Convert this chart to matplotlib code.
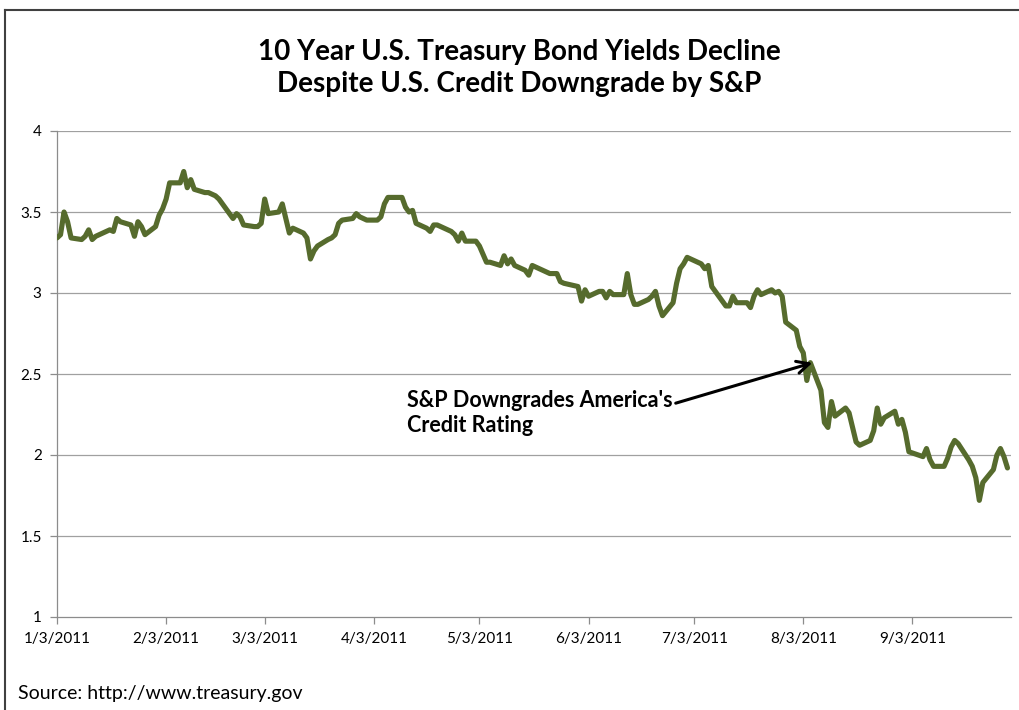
import pandas as pd
import matplotlib
matplotlib.use("Agg")
import matplotlib.pyplot as plt
from matplotlib.lines import Line2D

plt.rcParams['font.family'] = ['Lato', 'DejaVu Sans']

# 10 year yields, one list per month (trading days only)
jan = [3.34, 3.36, 3.50, 3.44, 3.34, 3.33, 3.35, 3.39, 3.33, 3.35, 3.39, 3.38, 3.46, 3.44, 3.42, 3.35, 3.44, 3.41, 3.36, 3.41]
feb = [3.48, 3.52, 3.58, 3.68, 3.68, 3.75, 3.65, 3.70, 3.64, 3.62, 3.62, 3.61, 3.60, 3.58, 3.46, 3.49, 3.47, 3.42, 3.41]
mar = [3.41, 3.43, 3.58, 3.49, 3.50, 3.55, 3.46, 3.37, 3.40, 3.37, 3.34, 3.21, 3.26, 3.29, 3.33, 3.34, 3.36, 3.43, 3.45, 3.46, 3.49, 3.47, 3.46]
apr = [3.45, 3.45, 3.47, 3.55, 3.59, 3.59, 3.59, 3.53, 3.50, 3.51, 3.43, 3.40, 3.38, 3.42, 3.42, 3.38, 3.36, 3.32, 3.37, 3.32]
may = [3.32, 3.29, 3.24, 3.19, 3.19, 3.17, 3.23, 3.18, 3.21, 3.17, 3.14, 3.11, 3.17, 3.16, 3.15, 3.12, 3.12, 3.12, 3.07, 3.06, 3.04]
jun = [2.95, 3.02, 2.98, 3.01, 3.01, 2.97, 3.01, 2.99, 2.99, 3.12, 2.99, 2.93, 2.93, 2.96, 2.98, 3.01, 2.92, 2.86, 2.94, 3.06, 3.15, 3.18]
jul = [3.22, 3.18, 3.15, 3.17, 3.04, 2.95, 2.92, 2.92, 2.98, 2.94, 2.94, 2.91, 2.98, 3.02, 2.99, 3.02, 3.00, 3.01, 2.98, 2.82]
aug = [2.77, 2.67, 2.63, 2.46, 2.57, 2.40, 2.20, 2.17, 2.33, 2.24, 2.29, 2.26, 2.17, 2.08, 2.06, 2.09, 2.15, 2.29, 2.19, 2.23, 2.27, 2.19, 2.22]
sep = [2.14, 2.02, 1.99, 2.04, 1.97, 1.93, 1.93, 1.98, 2.05, 2.09, 2.07, 1.97, 1.93, 1.86, 1.72, 1.83, 1.91, 2.00, 2.04, 1.99, 1.92]

market_holidays = ['2011-01-17', '2011-02-21', '2011-04-22', '2011-05-30', '2011-07-04', '2011-09-05']
tick_dates = ['2011-01-03', '2011-02-03', '2011-03-03', '2011-04-03', '2011-05-03',
              '2011-06-03', '2011-07-03', '2011-08-03', '2011-09-03']
y_ticks = [1, 1.5, 2, 2.5, 3, 3.5, 4]
y_labels = ['1', '1.5', '2', '2.5', '3', '3.5', '4']

yields = jan + feb + mar + apr + may + jun + jul + aug + sep
dates = pd.bdate_range('2011-01-03', '2011-09-30', freq='C', holidays=market_holidays)
assert len(dates) == len(yields)

fig = plt.figure(figsize=(10.19, 7.10), dpi=100)
ax = fig.add_axes([57 / 1019, 1 - 617 / 710, (1011 - 57) / 1019, (617 - 131) / 710])

ax.plot(dates, yields, color='#566B2D', lw=3.7, solid_joinstyle='round', solid_capstyle='round', zorder=3)

ax.set_ylim(1, 4)
ax.set_xlim(pd.Timestamp('2011-01-03'), pd.Timestamp('2011-10-01'))
ax.set_yticks(y_ticks)
ax.set_yticklabels(y_labels)
ticks = pd.to_datetime(tick_dates)
ax.set_xticks(ticks)
ax.set_xticklabels([f"{d.month}/{d.day}/{d.year}" for d in ticks])

for v in y_ticks[1:]:
    ax.axhline(v, color='#A0A0A0', lw=0.9, zorder=1)

for s in ['top', 'right']:
    ax.spines[s].set_visible(False)
for s in ['left', 'bottom']:
    ax.spines[s].set_color('#8C8C8C')
    ax.spines[s].set_linewidth(0.9)
ax.tick_params(axis='both', colors='#8C8C8C', length=5, width=0.9, labelcolor='black', labelsize=11)
ax.tick_params(axis='y', pad=6)
ax.tick_params(axis='x', pad=6)

# annotation
ax.text(pd.Timestamp('2011-04-12 10:00'), 2.26, "S&P Downgrades America's\nCredit Rating",
        fontsize=15.5, fontweight='bold', va='center', ha='left', linespacing=1.2)
ax.annotate('', xy=(pd.Timestamp('2011-08-06 08:00'), 2.574),
            xytext=(pd.Timestamp('2011-06-27 00:00'), 2.315),
            arrowprops=dict(arrowstyle='->', color='black', lw=2.2, mutation_scale=22))

fig.text(519 / 1019, 1 - 68 / 710, "10 Year U.S. Treasury Bond Yields Decline\nDespite U.S. Credit Downgrade by S&P",
         ha='center', va='center', fontsize=20, fontweight='bold', linespacing=1.3)
fig.text(18 / 1019, 1 - 693 / 710, "Source: http://www.treasury.gov", ha='left', va='center', fontsize=14)

# outer frame
fig.add_artist(Line2D([5 / 1019, 5 / 1019], [0, 1 - 10 / 710], transform=fig.transFigure, color='#404040', lw=1.5))
fig.add_artist(Line2D([5 / 1019, 1], [1 - 10 / 710, 1 - 10 / 710], transform=fig.transFigure, color='#404040', lw=1.5))

fig.savefig('out.png', dpi=100)
